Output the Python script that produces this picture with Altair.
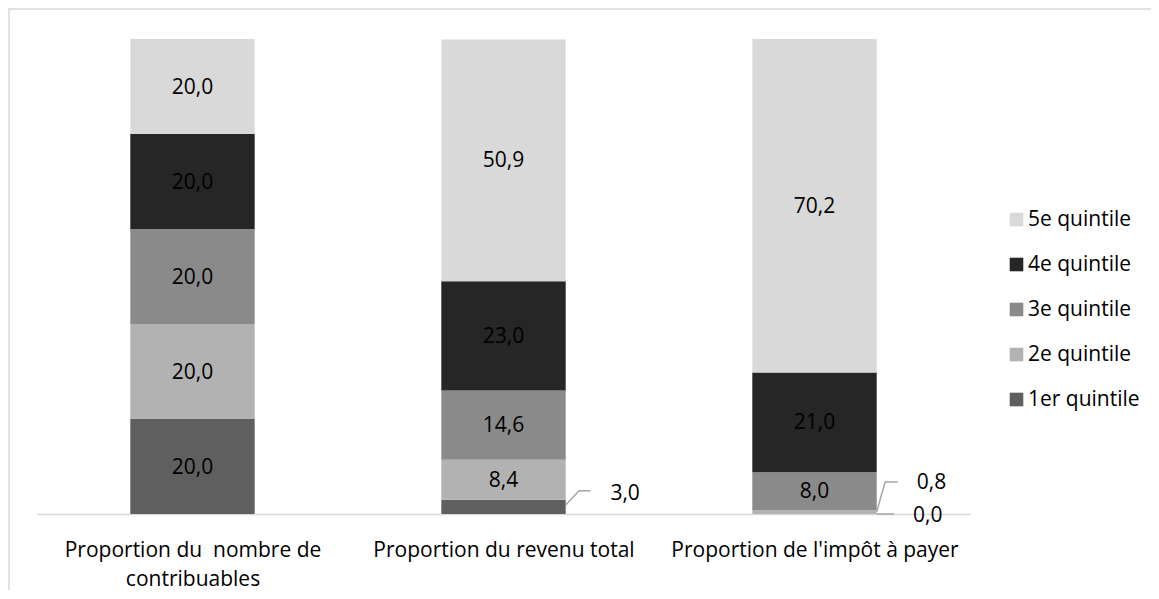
import json
import altair as alt
import pandas as pd

# ---- data -------------------------------------------------------------
categories = [
    "Proportion du\u00a0 nombre de|contribuables",
    "Proportion du revenu total",
    "Proportion de l'impôt à payer",
]
quintiles = ["1er quintile", "2e quintile", "3e quintile", "4e quintile", "5e quintile"]
contribuables = [20.0, 20.0, 20.0, 20.0, 20.0]
revenu = [3.0, 8.4, 14.6, 23.0, 50.9]
impot = [0.0, 0.8, 8.0, 21.0, 70.2]

legend_order = ["5e quintile", "4e quintile", "3e quintile", "2e quintile", "1er quintile"]
legend_colors = ["#d9d9d9", "#262626", "#8a8a8a", "#b2b2b2", "#5f5f5f"]

# outside labels (small segments) : category index, quintile index
ext_cat = [1, 2, 2]
ext_q = [0, 1, 0]
# label anchor positions (layout) in data units
ext_lx = [1.391, 2.376, 2.364]
ext_ly = [4.3, 6.5, -0.42]
# leader lines (layout): id, x, y in data units
lead_id = [0, 0, 0, 1, 1, 1, 2, 2]
lead_x = [1.200, 1.243, 1.280, 2.200, 2.227, 2.268, 2.200, 2.256]
lead_y = [1.9, 4.9, 4.9, 0.45, 6.74, 6.74, 0.0, 0.0]

FONT = "Open Sans"

# ---- tables -----------------------------------------------------------
series = [contribuables, revenu, impot]
rows = []
for ci, vals in enumerate(series):
    for qi, (q, v) in enumerate(zip(quintiles, vals)):
        rows.append({"cat": ci, "quintile": q, "qi": qi, "value": v})
df = pd.DataFrame(rows)

ext_df = pd.DataFrame({
    "cat": ext_cat,
    "value": [series[c][q] for c, q in zip(ext_cat, ext_q)],
    "lx": ext_lx,
    "ly": ext_ly,
})
lead_df = pd.DataFrame({"id": lead_id, "x": lead_x, "y": lead_y})

xscale = alt.Scale(domain=[-0.5, 2.5], nice=False, zero=False)
yscale = alt.Scale(domain=[0, 100], nice=False, zero=False)

label_expr = "split(" + json.dumps(categories, ensure_ascii=False) + "[datum.value], '|')"

base = alt.Chart(df).transform_stack(
    stack="value",
    groupby=["cat"],
    sort=[alt.SortField("qi", order="ascending")],
    as_=["y0", "y1"],
).transform_calculate(
    xl="datum.cat - 0.2",
    xr="datum.cat + 0.2",
    ym="(datum.y0 + datum.y1) / 2",
    label="replace(format(datum.value, '.1f'), '.', ',')",
)

bars = base.mark_bar(stroke=None).encode(
    x=alt.X(
        "xl:Q",
        scale=xscale,
        axis=alt.Axis(
            values=[0, 1, 2],
            labelExpr=label_expr,
            title=None,
            ticks=False,
            grid=False,
            domainColor="#d9d9d9",
            domainWidth=1.5,
            labelFont=FONT,
            labelFontSize=21,
            labelColor="#000000",
            labelPadding=25,
            labelLineHeight=29,
            labelLimit=0,
            labelFlush=False,
            labelOverlap=False,
            labelBound=False,
        ),
    ),
    x2="xr:Q",
    y=alt.Y("y0:Q", scale=yscale, axis=None),
    y2="y1:Q",
    color=alt.Color(
        "quintile:N",
        scale=alt.Scale(domain=legend_order, range=legend_colors),
        legend=alt.Legend(
            orient="none",
            legendX=969,
            legendY=170,
            title=None,
            symbolType="square",
            symbolSize=185,
            symbolStrokeWidth=0,
            labelFont=FONT,
            labelFontSize=21,
            labelColor="#000000",
            labelOffset=1,
            rowPadding=23,
            padding=0,
            labelLimit=0,
        ),
    ),
)

inside = base.transform_filter("datum.value >= 5").mark_text(
    font=FONT, fontSize=21, color="#000000", baseline="middle", dy=1
).encode(
    x=alt.X("cat:Q", scale=xscale),
    y=alt.Y("ym:Q", scale=yscale),
    text="label:N",
)

ext_labels = alt.Chart(ext_df).transform_calculate(
    label="replace(format(datum.value, '.1f'), '.', ',')"
).mark_text(font=FONT, fontSize=21, color="#000000", baseline="middle").encode(
    x=alt.X("lx:Q", scale=xscale),
    y=alt.Y("ly:Q", scale=yscale),
    text="label:N",
)

leaders = alt.Chart(lead_df).mark_line(color="#a6a6a6", strokeWidth=1.5).encode(
    x=alt.X("x:Q", scale=xscale),
    y=alt.Y("y:Q", scale=yscale),
    detail="id:N",
    order=alt.Order("x:Q"),
)

frame = alt.Chart(pd.DataFrame({"a": [0]})).mark_rect(
    fillOpacity=0, stroke="#d9d9d9", strokeWidth=1.5
).encode(
    x=alt.value(-28), x2=alt.value(1400), y=alt.value(-30), y2=alt.value(900)
)

chart = alt.layer(frame, bars, leaders, inside, ext_labels).properties(
    width=933,
    height=475,
    autosize=alt.AutoSizeParams(type="none"),
    padding={"left": 29, "top": 31, "right": 181, "bottom": 76},
).configure_view(stroke=None)

chart.save("out.html", embed_options={"renderer": "svg", "actions": False})
